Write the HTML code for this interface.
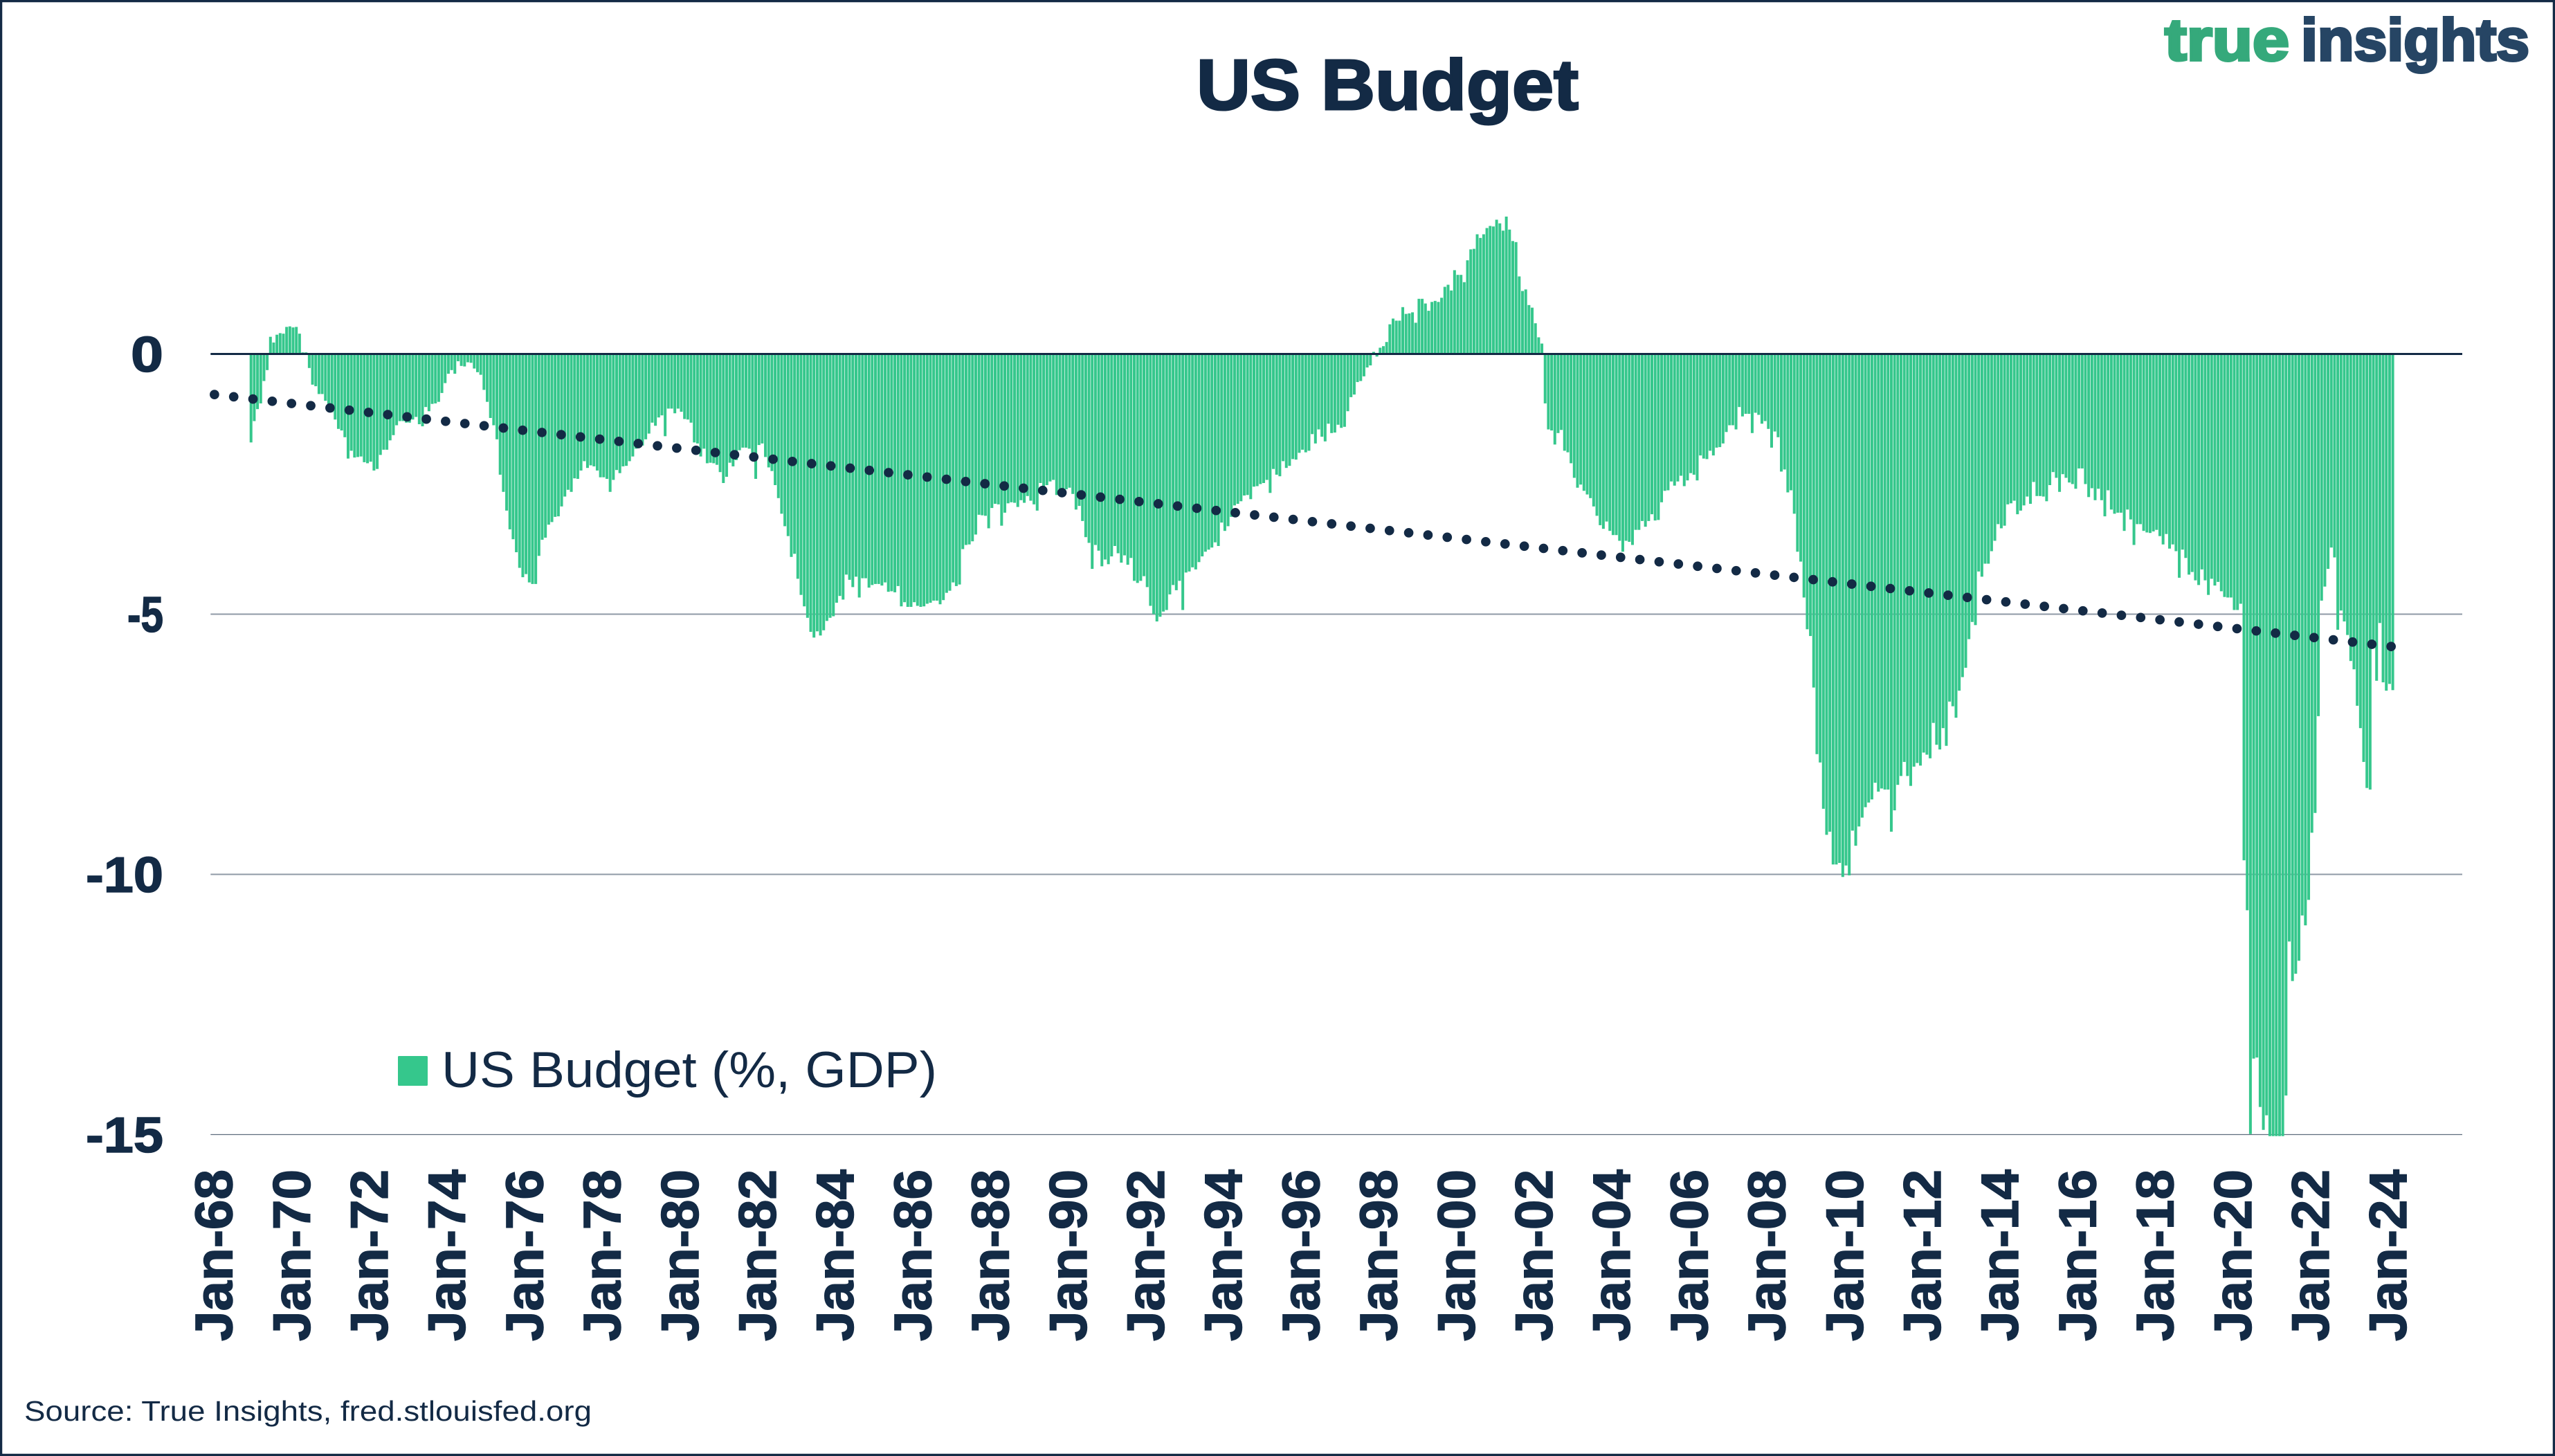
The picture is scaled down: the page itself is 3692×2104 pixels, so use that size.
<!DOCTYPE html>
<html lang="en">
<head>
<meta charset="utf-8">
<title>US Budget</title>
<style>
html,body{margin:0;padding:0;background:#fff;}
body{width:3692px;height:2104px;overflow:hidden;}
svg{display:block;font-family:"Liberation Sans",sans-serif;}
</style>
</head>
<body>
<svg id="chart" xmlns="http://www.w3.org/2000/svg" width="3692" height="2104" viewBox="0 0 3692 2104">
  <rect x="1.5" y="1.5" width="3689" height="2101" fill="#ffffff" stroke="#132a45" stroke-width="3.5"/>
  <text x="1729" y="158" font-size="103" font-weight="700" fill="#132a45" stroke="#132a45" stroke-width="3" textLength="552" lengthAdjust="spacingAndGlyphs">US Budget</text>
  <g font-weight="700" font-size="85">
    <text x="3128" y="87" fill="#35a97b" stroke="#35a97b" stroke-width="4" textLength="180" lengthAdjust="spacingAndGlyphs">true</text>
    <text x="3325" y="87" fill="#264564" stroke="#264564" stroke-width="4" textLength="330" lengthAdjust="spacingAndGlyphs">insights</text>
  </g>
  <g id="grid"></g>
  <g id="bars"></g>
  <g id="zero"></g>
  <g id="trend"></g>
  <g id="ylabels"></g>
  <g id="xlabels"></g>
  <g>
    <rect x="575" y="1526" width="43" height="43" rx="1.5" fill="#35c78c"/>
    <text x="638" y="1571" font-size="73" fill="#132a45" textLength="716" lengthAdjust="spacingAndGlyphs">US Budget (%, GDP)</text>
  </g>
  <text x="35" y="2053" font-size="41" fill="#132a45" textLength="820" lengthAdjust="spacingAndGlyphs">Source: True Insights, fred.stlouisfed.org</text>
</svg>
<script>
const firstBudgetMonth = 12;
const budgetValues = [
-1.70,-1.29,-1.06,-.95,-.52,-.31,.33,.22,.37,.40,.39,.52,
.53,.51,.52,.39,.03,.03,-.27,-.59,-.62,-.77,-.77,-.90,
-1.02,-1.12,-1.26,-1.44,-1.47,-1.60,-2.01,-1.86,-1.99,-1.98,-1.97,-2.08,
-2.10,-2.07,-2.24,-2.21,-1.94,-1.84,-1.84,-1.66,-1.56,-1.37,-1.29,-1.29,
-1.32,-1.32,-1.26,-1.21,-1.35,-1.39,-1.02,-1.10,-.96,-.95,-.92,-.75,
-.56,-.38,-.31,-.38,-.14,-.23,-.24,-.16,-.17,-.28,-.35,-.40,
-.69,-.92,-1.23,-1.37,-1.64,-2.32,-2.65,-3.01,-3.37,-3.56,-3.81,-4.11,
-4.29,-4.23,-4.39,-4.42,-4.42,-3.88,-3.57,-3.53,-3.28,-3.23,-3.13,-3.12,
-2.93,-2.74,-2.61,-2.65,-2.39,-2.40,-2.24,-2.06,-2.19,-2.14,-2.16,-2.24,
-2.37,-2.37,-2.40,-2.65,-2.42,-2.23,-2.29,-2.16,-2.15,-2.06,-1.97,-1.82,
-1.79,-1.76,-1.64,-1.53,-1.32,-1.38,-1.22,-1.18,-1.58,-1.05,-1.05,-1.14,
-1.05,-1.11,-1.25,-1.26,-1.32,-1.70,-1.72,-1.97,-1.82,-2.10,-2.09,-2.10,
-2.13,-2.27,-2.48,-2.36,-2.09,-2.16,-2.04,-1.85,-1.80,-1.80,-1.82,-1.90,
-2.40,-1.75,-1.72,-1.98,-2.18,-2.25,-2.52,-2.77,-3.07,-3.31,-3.50,-3.90,
-3.84,-4.32,-4.63,-4.85,-5.07,-5.34,-5.45,-5.33,-5.41,-5.31,-5.13,-5.07,
-5.04,-4.78,-4.65,-4.72,-4.24,-4.34,-4.48,-4.28,-4.68,-4.31,-4.31,-4.49,
-4.44,-4.42,-4.42,-4.45,-4.39,-4.57,-4.56,-4.58,-4.46,-4.85,-4.77,-4.86,
-4.86,-4.77,-4.84,-4.86,-4.85,-4.80,-4.78,-4.74,-4.74,-4.81,-4.73,-4.59,
-4.55,-4.39,-4.46,-4.43,-3.75,-3.67,-3.66,-3.60,-3.47,-3.09,-3.10,-3.11,
-3.35,-2.96,-2.88,-2.89,-3.30,-3.05,-2.87,-2.85,-2.86,-2.94,-2.81,-2.86,
-2.73,-2.82,-2.89,-3.01,-2.48,-2.54,-2.52,-2.45,-2.42,-2.71,-2.73,-2.73,
-2.60,-2.57,-2.69,-2.99,-2.92,-3.21,-3.52,-3.63,-4.13,-3.67,-3.78,-4.08,
-3.95,-4.04,-3.89,-3.69,-3.83,-4.01,-3.87,-4.05,-3.92,-4.36,-4.40,-4.36,
-4.27,-4.48,-4.84,-5.00,-5.14,-5.05,-4.95,-4.92,-4.62,-4.44,-4.54,-4.36,
-4.92,-4.20,-4.18,-4.10,-4.14,-4.00,-3.89,-3.80,-3.76,-3.72,-3.62,-3.69,
-3.24,-3.40,-3.31,-3.13,-2.91,-2.88,-2.83,-2.72,-2.71,-2.79,-2.55,-2.54,
-2.50,-2.48,-2.42,-2.67,-2.21,-2.32,-2.35,-2.06,-2.19,-2.15,-2.02,-2.03,
-1.90,-1.84,-1.89,-1.86,-1.54,-1.72,-1.45,-1.59,-1.68,-1.34,-1.52,-1.51,
-1.36,-1.42,-1.40,-1.10,-.83,-.78,-.54,-.52,-.43,-.26,-.22,.04,
-.05,.12,.15,.23,.57,.68,.64,.64,.90,.77,.78,.80,
.60,1.06,1.06,.97,.83,1.00,1.02,1.00,1.08,1.29,1.33,1.22,
1.61,1.52,1.52,1.38,1.80,2.01,2.02,2.30,2.23,2.30,2.42,2.46,
2.45,2.58,2.51,2.37,2.64,2.39,2.17,2.15,1.49,1.21,1.24,.94,
.89,.59,.32,.20,-.95,-1.45,-1.47,-1.74,-1.52,-1.46,-1.86,-1.89,
-2.10,-2.38,-2.57,-2.51,-2.63,-2.70,-2.77,-2.93,-3.11,-3.29,-3.36,-3.22,
-3.40,-3.48,-3.48,-3.59,-3.80,-3.59,-3.61,-3.67,-3.38,-3.38,-3.21,-3.32,
-3.21,-3.08,-3.20,-3.19,-2.85,-2.63,-2.62,-2.45,-2.53,-2.45,-2.34,-2.54,
-2.43,-2.29,-2.32,-2.43,-1.95,-2.01,-2.02,-1.86,-1.95,-1.80,-1.79,-1.72,
-1.50,-1.37,-1.37,-1.45,-1.02,-1.20,-1.15,-1.15,-1.52,-1.13,-1.17,-1.34,
-1.29,-1.44,-1.80,-1.49,-1.60,-2.26,-2.22,-2.66,-2.62,-3.07,-3.80,-3.99,
-4.68,-5.29,-5.42,-6.41,-7.69,-7.85,-8.74,-9.24,-9.18,-9.81,-9.81,-9.78,
-10.05,-9.83,-10.02,-9.16,-9.45,-9.08,-8.91,-8.71,-8.62,-8.56,-8.24,-8.41,
-8.35,-8.37,-8.37,-9.18,-8.77,-8.28,-8.11,-7.84,-8.11,-8.30,-7.93,-7.86,
-7.91,-7.66,-7.70,-7.77,-7.09,-7.51,-7.60,-7.19,-7.53,-6.68,-6.77,-6.99,
-6.47,-6.21,-6.03,-5.48,-5.15,-5.21,-4.18,-4.28,-4.03,-4.03,-3.79,-3.59,
-3.27,-3.35,-3.30,-2.89,-2.87,-2.82,-3.08,-3.01,-2.91,-2.74,-2.88,-2.46,
-2.73,-2.73,-2.74,-2.83,-2.52,-2.27,-2.38,-2.65,-2.31,-2.38,-2.47,-2.50,
-2.59,-2.20,-2.20,-2.50,-2.75,-2.58,-2.81,-2.59,-2.81,-3.12,-2.62,-2.99,
-3.07,-3.05,-3.05,-3.40,-2.99,-3.18,-3.67,-3.27,-3.27,-3.40,-3.43,-3.44,
-3.41,-3.38,-3.50,-3.66,-3.46,-3.74,-3.66,-3.79,-4.30,-3.76,-3.92,-4.24,
-4.19,-4.35,-4.44,-4.14,-4.35,-4.63,-4.32,-4.45,-4.38,-4.56,-4.67,-4.68,
-4.68,-4.92,-4.92,-4.80,-9.73,-10.69,-14.99,-13.54,-13.52,-14.47,-14.91,-14.63,
-15.03,-15.03,-15.03,-15.03,-15.03,-14.25,-11.29,-12.05,-11.91,-11.66,-10.79,-10.98,
-10.49,-9.20,-8.82,-6.96,-4.74,-4.47,-4.13,-3.72,-3.91,-5.30,-4.93,-5.14,
-5.40,-5.90,-6.06,-6.76,-7.19,-7.84,-8.34,-8.37,-5.60,-6.28,-5.17,-6.31,
-6.47,-6.34,-6.46
];
const trendMonths = [0, 674];
const trendValues = [-0.775, -5.625];
const yTickValues = [0, -5, -10, -15];
const yTickLabels = ["0", "-5", "-10", "-15"];
const xTickMonths = [0,24,48,72,96,120,144,168,192,216,240,264,288,312,336,360,384,408,432,456,480,504,528,552,576,600,624,648,672];
const xTickLabels = ["Jan-68","Jan-70","Jan-72","Jan-74","Jan-76","Jan-78","Jan-80","Jan-82","Jan-84","Jan-86","Jan-88","Jan-90","Jan-92","Jan-94","Jan-96","Jan-98","Jan-00","Jan-02","Jan-04","Jan-06","Jan-08","Jan-10","Jan-12","Jan-14","Jan-16","Jan-18","Jan-20","Jan-22","Jan-24"];

const SVGNS = "http://www.w3.org/2000/svg";
const plotLeft = 304.3, plotRight = 3558, monthWidth = 4.675;
const zeroY = 511.5, pxPerUnit = 75.2;
function xPos(month){ return plotLeft + (month + 0.5) * monthWidth; }
function yPos(value){ return zeroY - value * pxPerUnit; }
function svgEl(tag){ return document.createElementNS(SVGNS, tag); }
function yLabelWidth(label){ return label.length > 2 ? 112 : (label.length === 2 ? 52 : 47); }

const gridGroup = document.getElementById('grid');
yTickValues.forEach(function(v){
  if (v === 0) return;
  const line = svgEl('line');
  
  
  line.setAttribute('x1', plotLeft);
  line.setAttribute('x2', plotRight);
  line.setAttribute('y1', yPos(v));
  line.setAttribute('y2', yPos(v));
  line.setAttribute('stroke', v === -15 ? '#5d6c7c' : '#8f99a6');
  line.setAttribute('stroke-width', v === -15 ? 1.2 : 2);
  gridGroup.appendChild(line);
});

const barGroup = document.getElementById('bars');
budgetValues.forEach(function(v, k){
  const month = firstBudgetMonth + k;
  const bar = svgEl('rect');
  
  
  const w = 4;
  bar.setAttribute('x', xPos(month) - w / 2);
  bar.setAttribute('y', Math.min(yPos(v), zeroY));
  bar.setAttribute('width', w);
  bar.setAttribute('height', Math.abs(yPos(v) - zeroY));
  bar.setAttribute('fill', '#35c78c');
  barGroup.appendChild(bar);
});

const zeroGroup = document.getElementById('zero');
const zeroLine = svgEl('line');


zeroLine.setAttribute('x1', plotLeft);
zeroLine.setAttribute('x2', plotRight);
zeroLine.setAttribute('y1', yPos(0));
zeroLine.setAttribute('y2', yPos(0));
zeroLine.setAttribute('stroke', '#132a45');
zeroLine.setAttribute('stroke-width', 3);
zeroGroup.appendChild(zeroLine);

const trendGroup = document.getElementById('trend');
const trendLine = svgEl('line');


trendLine.setAttribute('x1', xPos(trendMonths[0]));
trendLine.setAttribute('x2', xPos(trendMonths[1]));
trendLine.setAttribute('y1', yPos(trendValues[0]));
trendLine.setAttribute('y2', yPos(trendValues[1]));
trendLine.setAttribute('stroke', '#132a45');
trendLine.setAttribute('stroke-width', 13.7);
trendLine.setAttribute('stroke-linecap', 'round');
trendLine.setAttribute('stroke-dasharray', '0 28.02');
trendLine.setAttribute('stroke-dashoffset', '-3.27');
trendGroup.appendChild(trendLine);

const yLabelGroup = document.getElementById('ylabels');
yTickValues.forEach(function(v, k){
  const t = svgEl('text');
  
  
  t.setAttribute('x', 236);
  t.setAttribute('y', yPos(v) + 25.5);
  t.setAttribute('text-anchor', 'end');
  t.setAttribute('font-size', 72);
  t.setAttribute('font-weight', 700);
  t.setAttribute('fill', '#132a45');
  t.setAttribute('stroke', '#132a45');
  t.setAttribute('stroke-width', 1.5);
  t.setAttribute('textLength', yLabelWidth(yTickLabels[k]));
  t.setAttribute('lengthAdjust', 'spacingAndGlyphs');
  t.textContent = yTickLabels[k];
  yLabelGroup.appendChild(t);
});

const xLabelGroup = document.getElementById('xlabels');
xTickLabels.forEach(function(label, k){
  const t = svgEl('text');
  const bx = xPos(xTickMonths[k]) + 29;
  
  
  t.setAttribute('transform', 'translate(' + bx + ',1938) rotate(-90)');
  t.setAttribute('x', 0);
  t.setAttribute('y', 0);
  t.setAttribute('font-size', 76);
  t.setAttribute('font-weight', 700);
  t.setAttribute('fill', '#132a45');
  t.setAttribute('stroke', '#132a45');
  t.setAttribute('stroke-width', 1.5);
  t.setAttribute('textLength', 248);
  t.setAttribute('lengthAdjust', 'spacingAndGlyphs');
  t.textContent = label;
  xLabelGroup.appendChild(t);
});
</script>
</body>
</html>
